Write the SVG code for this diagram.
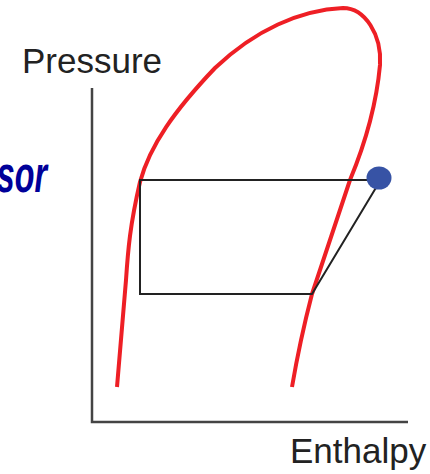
<svg xmlns="http://www.w3.org/2000/svg" width="430" height="474" viewBox="0 0 430 474">
<style>
.lbl{font-family:"Liberation Sans",Arial,sans-serif;font-size:35px;fill:#222}
.axis{fill:none;stroke:#444;stroke-width:2.5}
.cycle{fill:none;stroke:#222;stroke-width:2}
.dome{fill:none;stroke:#ee1f25;stroke-width:4;stroke-linecap:butt;stroke-linejoin:round}
</style>
<rect width="430" height="474" fill="#fff"/>
<g id="axes">
<polyline class="axis" points="92,88 92,422 408,422"/>
</g>
<g id="labels">
<text class="lbl" x="22" y="73">Pressure</text>
<text class="lbl" x="290" y="463">Enthalpy</text>
<text transform="translate(47,192) scale(0.62,1)" text-anchor="end" style="font-family:'Liberation Sans',Arial,sans-serif;font-size:52px;font-weight:bold;font-style:italic;fill:#000099">sor</text>
</g>
<g id="dome">
<path class="dome" d="M117,387 L126,280 C128,250 130,225 140,182 C150,145 175,110 215,68 C255,30 300,10 343,8 C365,8 382,35 380,65 Q375,120 350,180 L312,294 Q300,340 292,387"/>
</g>
<g id="cycle">
<polyline class="cycle" points="372,180 140,180 140,294 312,294 377,186"/>
</g>
<g id="state-point">
<ellipse cx="379" cy="178" rx="12.5" ry="11.5" fill="#3753a5"/>
</g>
</svg>
